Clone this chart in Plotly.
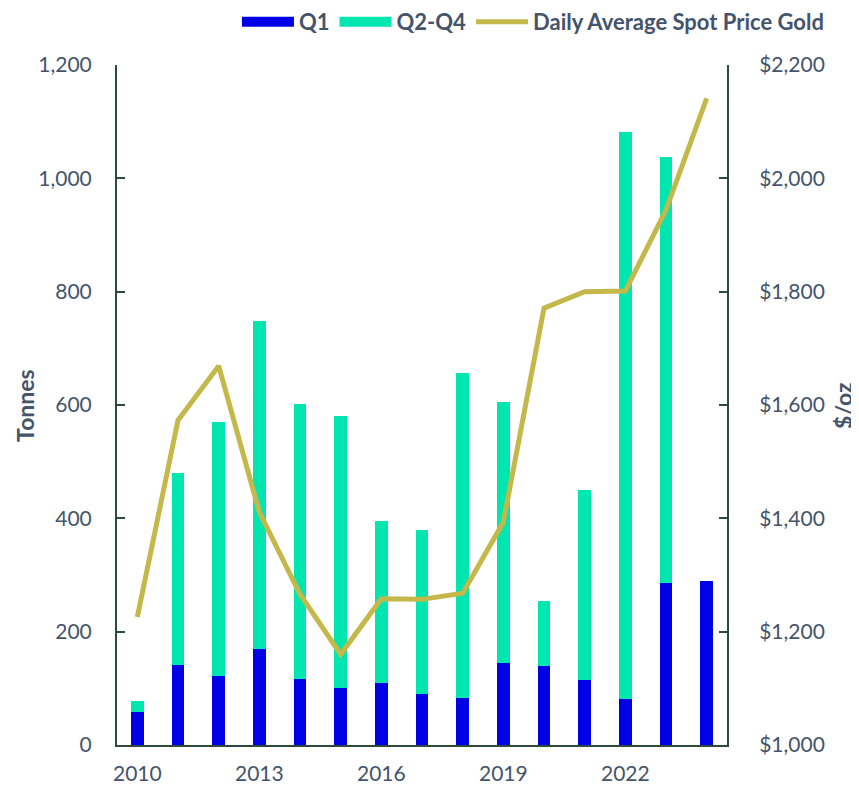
import plotly.graph_objects as go

years = list(range(2010, 2025))
q1 = [58, 141, 121, 169, 117, 101, 109, 90, 83, 145, 140, 114, 81, 286, 289]
q2_q4 = [20, 339, 449, 579, 485, 479, 286, 289, 573, 460, 114, 336, 1001, 751, 0]
gold_price = [1226, 1573, 1669, 1411, 1266, 1160, 1258, 1257, 1268, 1393, 1771, 1800, 1801, 1944, 2141]

x_ticks = [2010, 2013, 2016, 2019, 2022]
left_ticks = [0, 200, 400, 600, 800, 1000, 1200]
right_ticks = [1000, 1200, 1400, 1600, 1800, 2000, 2200]

txt = "#44546A"
axc = "#2E4A3E"
font = "Lato"
c_q1 = "#0000E6"
c_q2 = "#00E6B0"
c_gold = "#C4B84A"

fig = go.Figure()
fig.add_trace(go.Bar(x=years, y=q1, name="Q1", marker=dict(color=c_q1, line=dict(width=0)),
                     width=0.31, showlegend=False, legendgroup="q1"))
fig.add_trace(go.Bar(x=years, y=q2_q4, name="Q2-Q4", marker=dict(color=c_q2, line=dict(width=0)),
                     width=0.31, showlegend=False, legendgroup="q2"))
# legend entries drawn as wide rectangles
fig.add_trace(go.Scatter(x=[None], y=[None], name="Q1", mode="lines",
                         line=dict(color=c_q1, width=14), legendgroup="q1"))
fig.add_trace(go.Scatter(x=[None], y=[None], name="Q2-Q4", mode="lines",
                         line=dict(color=c_q2, width=14), legendgroup="q2"))
fig.add_trace(go.Scatter(x=years, y=gold_price, name="Daily Average Spot Price Gold", mode="lines",
                         line=dict(color=c_gold, width=5), yaxis="y2"))

fig.update_layout(
    width=851, height=778,
    barmode="stack",
    plot_bgcolor="white", paper_bgcolor="white",
    margin=dict(l=109, r=132, t=57, b=41, autoexpand=False),
    font=dict(family=font, size=21, color=txt),
    showlegend=True,
    legend=dict(orientation="h", xref="container", yref="container",
                x=0.9647, xanchor="right", y=0.982, yanchor="middle",
                font=dict(family=font, size=22, color=txt, weight="bold"),
                traceorder="normal", itemwidth=52, bgcolor="rgba(0,0,0,0)"),
    xaxis=dict(range=[2009.5, 2024.5], tickvals=x_ticks, ticktext=[str(v) for v in x_ticks],
               showline=True, linecolor=axc, linewidth=2, ticks="", showgrid=False, zeroline=False,
               automargin=False, ticklabelstandoff=9, tickfont=dict(size=21, color=txt)),
    yaxis=dict(range=[0, 1200], tickvals=left_ticks, tickformat=",d",
               showline=True, linecolor=axc, linewidth=2, ticks="inside", ticklen=8, tickcolor=axc, tickwidth=2,
               showgrid=False, zeroline=False, ticklabelstandoff=19, automargin=False,
               tickfont=dict(size=21, color=txt)),
    yaxis2=dict(range=[1000, 2200], tickvals=right_ticks, ticktext=[f"${v:,}" for v in right_ticks],
                overlaying="y", side="right",
                showline=True, linecolor=axc, linewidth=2, ticks="inside", ticklen=8, tickcolor=axc, tickwidth=2,
                showgrid=False, zeroline=False, ticklabelstandoff=26, automargin=False,
                tickfont=dict(size=21, color=txt)),
    annotations=[
        dict(text="<b>Tonnes</b>", xref="paper", yref="paper", x=-0.151, y=0.5, textangle=-90,
             showarrow=False, xanchor="center", yanchor="middle", font=dict(size=23, color=txt)),
        dict(text="<b>$/oz</b>", xref="paper", yref="paper", x=1.19, y=0.5, textangle=-90,
             showarrow=False, xanchor="center", yanchor="middle", font=dict(size=23, color=txt)),
    ],
)

fig.write_html("out.html")
